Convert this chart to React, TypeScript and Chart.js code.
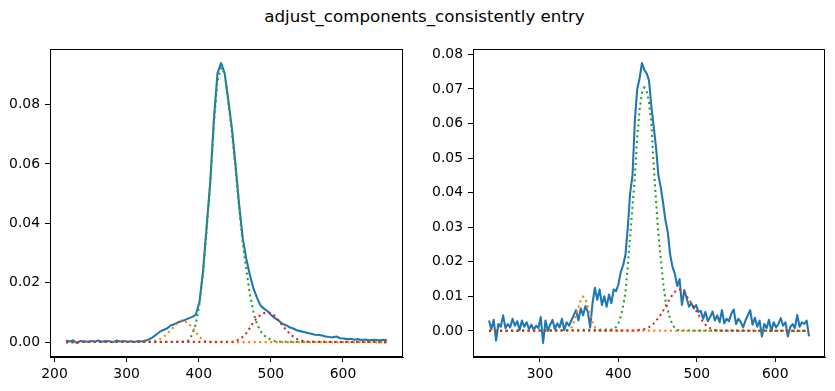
import React, { useEffect, useRef } from "react";
import { Chart, registerables } from "chart.js";

Chart.register(...registerables);

const TITLE = "adjust_components_consistently entry";

// ---------- Left panel ----------
const leftStartX = 216;
const leftStepX = 5;
const leftSignal = [
  0.0005, 0.0002, 0.0006, -0.0003, 0.0004, 0.0003, 0.0001, 0.0004, 0.0002, 0.0005,
  0.0001, 0.0004, 0.0003, 0.0000, 0.0005, 0.0002, 0.0004, 0.0001, 0.0003, 0.0000,
  0.0004, 0.0002, 0.0005, 0.0009, 0.0016, 0.0025, 0.0035, 0.0041, 0.0046, 0.0056,
  0.0060, 0.0066, 0.0070, 0.0075, 0.0080, 0.0085, 0.0092, 0.0135, 0.0240, 0.0390,
  0.0540, 0.0750, 0.0905, 0.0940, 0.0905, 0.0815, 0.0720, 0.0598, 0.0465, 0.0350,
  0.0280, 0.0225, 0.0180, 0.0148, 0.0122, 0.0112, 0.0103, 0.0090, 0.0080, 0.0072,
  0.0062, 0.0057, 0.0050, 0.0046, 0.0040, 0.0037, 0.0034, 0.0031, 0.0028, 0.0025,
  0.0024, 0.0022, 0.0019, 0.0017, 0.0016, 0.0019, 0.0013, 0.0012, 0.0010, 0.0011,
  0.0008, 0.0010, 0.0007, 0.0009, 0.0006, 0.0008, 0.0007, 0.0006, 0.0008, 0.0006,
];
const leftOrangeStartX = 331;
const leftOrange = [
  0.0001, 0.0002, 0.0005, 0.0010, 0.0017, 0.0027, 0.0040, 0.0053, 0.0066, 0.0073,
  0.0071, 0.0062, 0.0050, 0.0033, 0.0018, 0.0007, 0.0002, 0.0000,
];
const leftGreenStartX = 381;
const leftGreen = [
  0.0001, 0.0006, 0.0025, 0.0062, 0.0128, 0.0230, 0.0380, 0.0535, 0.0735, 0.0880,
  0.0925, 0.0905, 0.0810, 0.0705, 0.0585, 0.0450, 0.0335, 0.0245, 0.0160, 0.0098,
  0.0060, 0.0036, 0.0022, 0.0013, 0.0007, 0.0003, 0.0001,
];
const leftRedStartX = 446;
const leftRed = [
  0.0001, 0.0004, 0.0009, 0.0018, 0.0030, 0.0048, 0.0068, 0.0082, 0.0092, 0.0098,
  0.0100, 0.0097, 0.0087, 0.0072, 0.0056, 0.0042, 0.0029, 0.0019, 0.0011, 0.0006,
  0.0003, 0.0001,
];
const leftXTicks = [200, 300, 400, 500, 600];
const leftYTicks = [0, 0.02, 0.04, 0.06, 0.08];

// ---------- Right panel ----------
const rightStartX = 235;
const rightStepX = 3;
const rightSignal = [
  0.0030, 0.0005, 0.0032, -0.0028, 0.0020, 0.0012, 0.0045, 0.0008, 0.0020, 0.0010,
  0.0035, 0.0015, 0.0028, 0.0002, 0.0030, 0.0012, 0.0025, 0.0005, 0.0018, 0.0003,
  0.0015, 0.0008, 0.0040, -0.0035, 0.0030, 0.0000, 0.0018, 0.0032, 0.0005, 0.0022,
  0.0010, 0.0035, 0.0002, 0.0025, 0.0015, 0.0030, 0.0045, 0.0060, 0.0030, 0.0065,
  0.0045, 0.0072, 0.0055, 0.0010, 0.0080, 0.0125, 0.0090, 0.0120, 0.0075, 0.0100,
  0.0070, 0.0105, 0.0080, 0.0120, 0.0115, 0.0135, 0.0170, 0.0190, 0.0220, 0.0300,
  0.0400, 0.0450, 0.0610, 0.0700, 0.0730, 0.0775, 0.0755, 0.0745, 0.0725, 0.0650,
  0.0590, 0.0530, 0.0450, 0.0415, 0.0370, 0.0320, 0.0285, 0.0220, 0.0185, 0.0165,
  0.0130, 0.0150, 0.0075, 0.0118, 0.0095, 0.0070, 0.0080, 0.0065, 0.0075, 0.0055,
  0.0058, 0.0035, 0.0055, 0.0028, 0.0040, 0.0056, 0.0030, 0.0045, 0.0025, 0.0060,
  0.0022, 0.0035, 0.0028, 0.0050, 0.0062, 0.0020, 0.0035, 0.0026, 0.0010, 0.0030,
  0.0045, 0.0060, 0.0018, 0.0038, 0.0012, 0.0030, -0.0016, 0.0020, 0.0008, 0.0032,
  0.0000, 0.0025, 0.0010, 0.0020, 0.0037, 0.0015, 0.0025, -0.0016, 0.0010, 0.0020,
  0.0008, 0.0046, 0.0012, 0.0025, 0.0020, 0.0030, -0.0016,
];
const rightOrangeStartX = 337;
const rightOrange = [
  0.0002, 0.0010, 0.0024, 0.0045, 0.0068, 0.0088, 0.0099, 0.0093, 0.0070, 0.0046,
  0.0024, 0.0011, 0.0004, 0.0001,
];
const rightGreenStartX = 394;
const rightGreen = [
  0.0004, 0.0011, 0.0022, 0.0042, 0.0072, 0.0112, 0.0188, 0.0275, 0.0360, 0.0445,
  0.0560, 0.0640, 0.0688, 0.0704, 0.0695, 0.0660, 0.0600, 0.0478, 0.0375, 0.0280,
  0.0210, 0.0140, 0.0088, 0.0060, 0.0034, 0.0018, 0.0008, 0.0003, 0.0001,
];
const rightRedStartX = 421;
const rightRed = [
  0.0001, 0.0002, 0.0003, 0.0004, 0.0005, 0.0008, 0.0011, 0.0015, 0.0021, 0.0029,
  0.0038, 0.0047, 0.0058, 0.0071, 0.0083, 0.0095, 0.0105, 0.0113, 0.0118, 0.0120,
  0.0117, 0.0110, 0.0100, 0.0091, 0.0080, 0.0070, 0.0059, 0.0046, 0.0036, 0.0026,
  0.0018, 0.0012, 0.0008, 0.0005, 0.0003, 0.0001,
];
const rightXTicks = [300, 400, 500, 600];
const rightYTicks = [0, 0.01, 0.02, 0.03, 0.04, 0.05, 0.06, 0.07, 0.08];

const BLUE = "#1f77b4";
const ORANGE = "#ff7f0e";
const GREEN = "#2ca02c";
const RED = "#d62728";
const FONT = "'DejaVu Sans', sans-serif";
const LW = 2.08;

type Pt = { x: number; y: number };

function seriesPoints(startX: number, step: number, vals: number[]): Pt[] {
  return vals.map((v, i) => ({ x: startX + i * step, y: v }));
}

function componentPoints(startX: number, step: number, vals: number[], x0: number, x1: number): Pt[] {
  return [{ x: x0, y: 0 }, ...seriesPoints(startX, step, vals), { x: x1, y: 0 }];
}

const spinePlugin = {
  id: "spines",
  afterDraw(chart: any) {
    const { ctx, chartArea } = chart;
    ctx.save();
    ctx.strokeStyle = "#000";
    ctx.lineWidth = 1;
    const l = Math.round(chartArea.left) + 0.5;
    const t = Math.round(chartArea.top) + 0.5;
    const r = Math.round(chartArea.right) - 0.5;
    const b = Math.round(chartArea.bottom) - 0.5;
    ctx.strokeRect(l, t, r - l, b - t);
    ctx.restore();
  },
};

type PanelSpec = {
  startX: number;
  step: number;
  signal: number[];
  orange: [number, number[]];
  green: [number, number[]];
  red: [number, number[]];
  xTicks: number[];
  yTicks: number[];
  padRight: number;
  yWidth: number;
};

function Panel({ spec, left, width }: { spec: PanelSpec; left: number; width: number }) {
  const ref = useRef<HTMLCanvasElement | null>(null);
  useEffect(() => {
    if (!ref.current) return;
    const sig = seriesPoints(spec.startX, spec.step, spec.signal);
    const x0 = sig[0].x;
    const x1 = sig[sig.length - 1].x;
    const orange = componentPoints(spec.orange[0], spec.step, spec.orange[1], x0, x1);
    const green = componentPoints(spec.green[0], spec.step, spec.green[1], x0, x1);
    const red = componentPoints(spec.red[0], spec.step, spec.red[1], x0, x1);
    const allY = [...sig, ...orange, ...green, ...red].map((p) => p.y);
    const yMin = Math.min(...allY);
    const yMax = Math.max(...allY);
    const yPad = (yMax - yMin) * 0.05;
    const xPad = (x1 - x0) * 0.05;
    const dotted = (color: string, data: Pt[]) => ({
      data,
      borderColor: color,
      borderWidth: LW,
      borderDash: [LW, LW * 1.65],
      borderCapStyle: "butt",
      pointRadius: 0,
      tension: 0,
      fill: false,
    });
    const chart = new Chart(ref.current, {
      type: "line",
      data: {
        datasets: [
          dotted(RED, red),
          dotted(GREEN, green),
          dotted(ORANGE, orange),
          {
            data: sig,
            borderColor: BLUE,
            borderWidth: LW,
            borderJoinStyle: "round",
            borderCapStyle: "butt",
            pointRadius: 0,
            tension: 0,
            fill: false,
          },
        ] as any,
      },
      options: {
        animation: false,
        responsive: false,
        devicePixelRatio: 1,
        layout: { padding: { left: 0, top: 49, right: spec.padRight, bottom: 0 } },
        plugins: { legend: { display: false }, tooltip: { enabled: false }, title: { display: false } },
        scales: {
          x: {
            type: "linear",
            min: x0 - xPad,
            max: x1 + xPad,
            afterFit: (s: any) => {
              s.height = 34;
            },
            afterBuildTicks: (s: any) => {
              s.ticks = spec.xTicks.map((v) => ({ value: v }));
            },
            grid: {
              drawOnChartArea: false,
              drawTicks: true,
              tickLength: 5,
              tickWidth: 1,
              tickColor: "#000",
            },
            border: { display: true, color: "#000", width: 1 },
            ticks: {
              color: "#000",
              padding: 4,
              maxRotation: 0,
              autoSkip: false,
              font: { family: FONT, size: 13.9 },
              callback: (v: any) => String(v),
            },
          },
          y: {
            type: "linear",
            min: yMin - yPad,
            max: yMax + yPad,
            afterFit: (s: any) => {
              s.width = spec.yWidth;
            },
            afterBuildTicks: (s: any) => {
              s.ticks = spec.yTicks.map((v) => ({ value: v }));
            },
            grid: {
              drawOnChartArea: false,
              drawTicks: true,
              tickLength: 5,
              tickWidth: 1,
              tickColor: "#000",
            },
            border: { display: true, color: "#000", width: 1 },
            ticks: {
              color: "#000",
              padding: 5,
              autoSkip: false,
              font: { family: FONT, size: 13.9 },
              callback: (v: any) => Number(v).toFixed(2),
            },
          },
        },
      } as any,
      plugins: [spinePlugin],
    });
    return () => chart.destroy();
  }, [spec]);
  return (
    <canvas
      ref={ref}
      width={width}
      height={391}
      style={{ position: "absolute", left, top: 0, width, height: 391 }}
    />
  );
}

const leftSpec: PanelSpec = {
  startX: leftStartX,
  step: leftStepX,
  signal: leftSignal,
  orange: [leftOrangeStartX, leftOrange],
  green: [leftGreenStartX, leftGreen],
  red: [leftRedStartX, leftRed],
  xTicks: leftXTicks,
  yTicks: leftYTicks,
  padRight: 14,
  yWidth: 50,
};

const rightSpec: PanelSpec = {
  startX: rightStartX,
  step: rightStepX,
  signal: rightSignal,
  orange: [rightOrangeStartX, rightOrange],
  green: [rightGreenStartX, rightGreen],
  red: [rightRedStartX, rightRed],
  xTicks: rightXTicks,
  yTicks: rightYTicks,
  padRight: 10,
  yWidth: 56,
};

export default function App() {
  return (
    <div
      style={{
        position: "fixed",
        left: 0,
        top: 0,
        width: 835,
        height: 391,
        background: "#fff",
        overflow: "hidden",
      }}
    >
      <div
        style={{
          position: "absolute",
          left: 7,
          top: 9,
          width: 835,
          textAlign: "center",
          fontFamily: FONT,
          fontSize: 16.67,
          lineHeight: 1,
          color: "#000",
        }}
      >
        {TITLE}
      </div>
      <Panel spec={leftSpec} left={0} width={417} />
      <Panel spec={rightSpec} left={417} width={418} />
    </div>
  );
}
